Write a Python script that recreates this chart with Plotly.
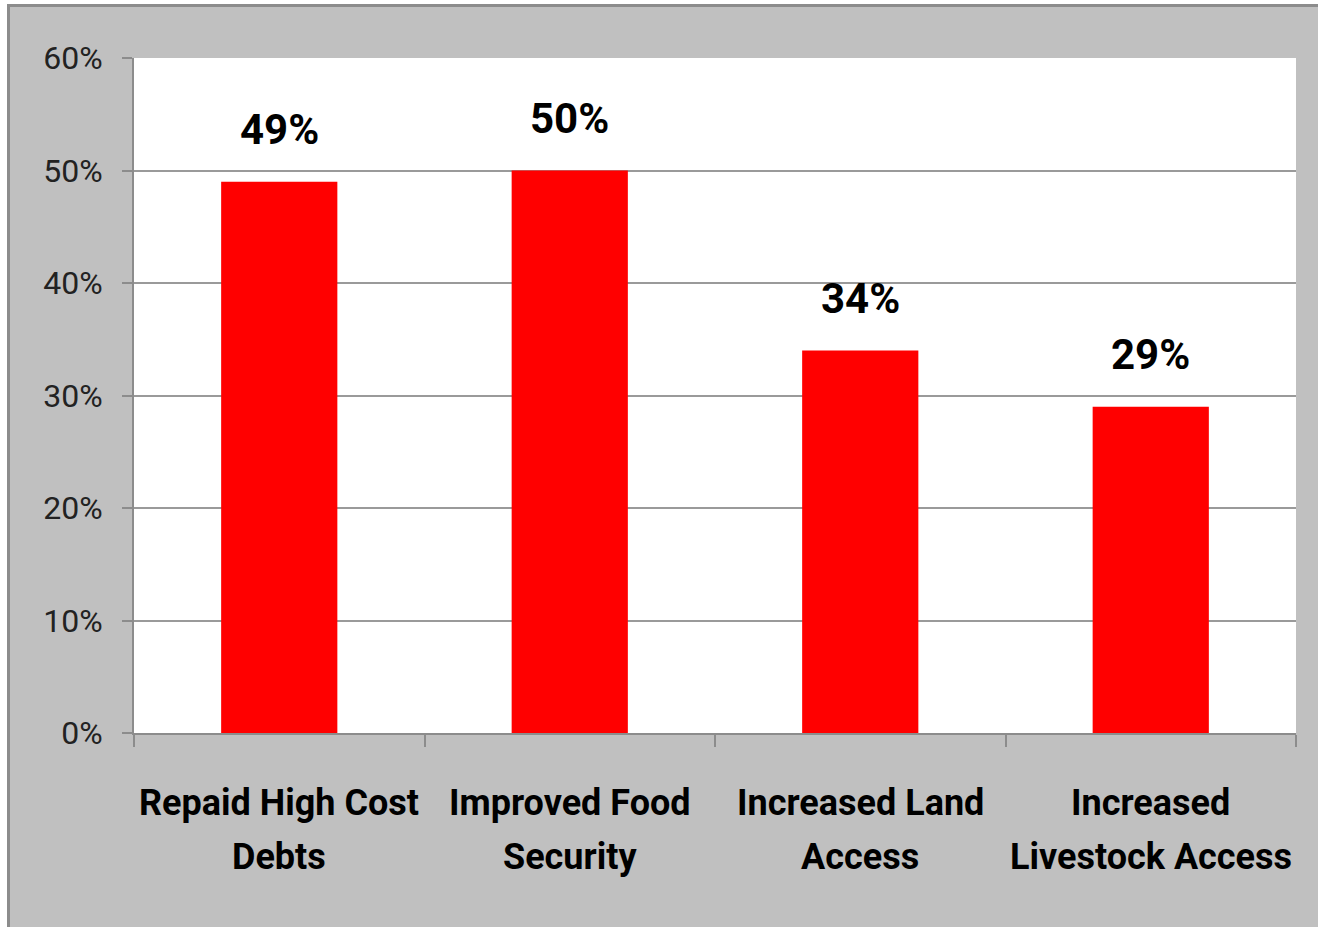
import plotly.graph_objects as go

# Survey outcomes (share of respondents)
categories = ["Repaid High Cost Debts", "Improved Food Security",
              "Increased Land Access", "Increased Livestock Access"]
label_lines = [("Repaid High Cost", "Debts"), ("Improved Food", "Security"),
               ("Increased Land", "Access"), ("Increased", "Livestock Access")]
values = [0.49, 0.50, 0.34, 0.29]
y_ticks = [0, 0.1, 0.2, 0.3, 0.4, 0.5, 0.6]
y_tick_labels = ["0%", "10%", "20%", "30%", "40%", "50%", "60%"]

W, H = 1318, 927
L, R, T, B = 134, 1296, 58, 733
PW, PH = R - L, B - T

FONT = "Roboto, Liberation Sans, sans-serif"


def px_x(px):
    return (px - L) / PW


def px_y(py):
    return (B - py) / PH


fig = go.Figure()
fig.add_trace(go.Bar(
    x=categories,
    y=values,
    width=0.4,
    marker=dict(color="#ff0000", line=dict(width=0)),
    hoverinfo="skip",
))

# value labels above the bars
for cat, v in zip(categories, values):
    fig.add_annotation(
        x=cat, y=v, xref="x", yref="y",
        text=f"{round(v * 100)}%",
        showarrow=False, yanchor="bottom", yshift=26,
        font=dict(family=FONT, size=42, color="#000000", weight="bold"),
    )

# two-line category labels under the axis
for cat, lines in zip(categories, label_lines):
    for line, ypx in zip(lines, (803, 857)):
        fig.add_annotation(
            x=cat, y=px_y(ypx), xref="x", yref="paper",
            text=line, showarrow=False, yanchor="middle", xanchor="center",
            font=dict(family=FONT, size=36, color="#000000", weight="bold"),
        )

# outer frame: white margin strips and the gray border line
fig.add_shape(type="rect", xref="paper", yref="paper",
              x0=px_x(-5), x1=px_x(7), y0=px_y(H + 5), y1=px_y(-5),
              fillcolor="white", line=dict(width=0), layer="above")
fig.add_shape(type="rect", xref="paper", yref="paper",
              x0=px_x(-5), x1=px_x(W + 5), y0=px_y(4), y1=px_y(-5),
              fillcolor="white", line=dict(width=0), layer="above")
fig.add_shape(type="path", xref="paper", yref="paper",
              path=f"M {px_x(8.5)} {px_y(H + 5)} L {px_x(8.5)} {px_y(5.5)} L {px_x(W + 5)} {px_y(5.5)}",
              line=dict(color="#8c8c8c", width=3), layer="above")

fig.update_layout(
    width=W, height=H,
    margin=dict(l=L, r=W - R, t=T, b=H - B, autoexpand=False),
    paper_bgcolor="#c0c0c0",
    plot_bgcolor="#ffffff",
    showlegend=False,
    xaxis=dict(
        type="category",
        tickson="boundaries",
        showticklabels=False,
        ticks="outside", ticklen=12, tickwidth=1.5, tickcolor="#8c8c8c",
        showline=True, linecolor="#8c8c8c", linewidth=2,
        showgrid=False,
    ),
    yaxis=dict(
        range=[0, 0.6],
        tickmode="array",
        tickvals=y_ticks,
        ticktext=y_tick_labels,
        ticks="outside", ticklen=10, tickwidth=1.5, tickcolor="#8c8c8c",
        showline=True, linecolor="#8c8c8c", linewidth=2,
        showgrid=True, gridcolor="#9a9a9a", gridwidth=1.5,
        zeroline=False,
        tickfont=dict(family=FONT, size=32, color="#222222"),
        ticklabelstandoff=13,
    ),
)

fig.write_html("out.html")
